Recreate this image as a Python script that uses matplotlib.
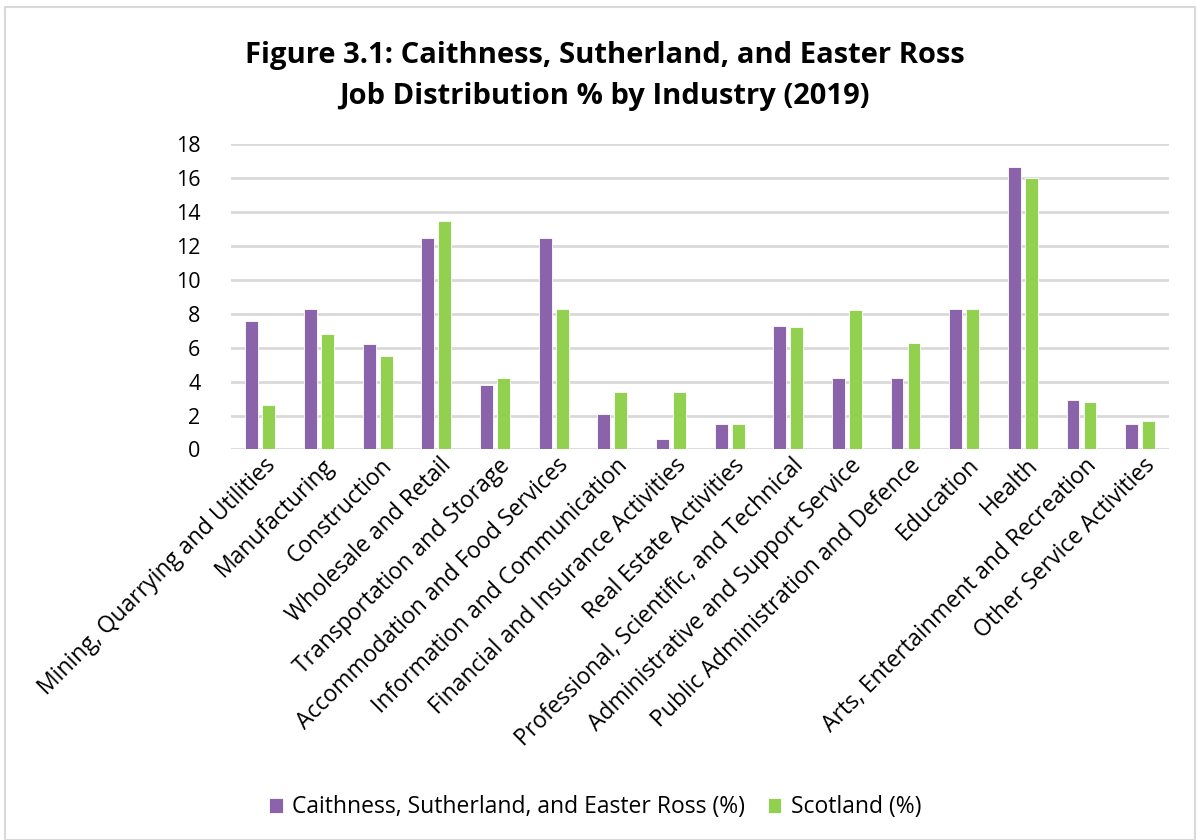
"""Job distribution % by industry (2019) - grouped bar chart."""

import numpy as np
import matplotlib
matplotlib.use("Agg")
import matplotlib.pyplot as plt
from matplotlib.patches import Rectangle

plt.rcParams["font.family"] = ["Open Sans", "DejaVu Sans"]

INDUSTRIES = [
    "Mining, Quarrying and Utilities",
    "Manufacturing",
    "Construction",
    "Wholesale and Retail",
    "Transportation and Storage",
    "Accommodation and Food Services",
    "Information and Communication",
    "Financial and Insurance Activities",
    "Real Estate Activities",
    "Professional, Scientific, and Technical",
    "Administrative and Support Service",
    "Public Administration and Defence",
    "Education",
    "Health",
    "Arts, Entertainment and Recreation",
    "Other Service Activities",
]
CSER = [7.6, 8.3, 6.2, 12.5, 3.8, 12.5, 2.1, 0.6, 1.5, 7.3, 4.2, 4.2, 8.3, 16.7, 2.9, 1.5]
SCOTLAND = [2.6, 6.8, 5.5, 13.5, 4.2, 8.3, 3.4, 3.4, 1.5, 7.2, 8.2, 6.3, 8.3, 16.0, 2.8, 1.7]
SERIES_NAMES = ["Caithness, Sutherland, and Easter Ross (%)", "Scotland (%)"]
Y_TICKS = list(range(0, 19, 2))

PURPLE = "#8a63aa"
GREEN = "#92d050"
GRID = "#d9d9d9"

fig = plt.figure(figsize=(11.97, 8.4), dpi=100)
ax = fig.add_axes([0.193, 0.465, 0.784, 0.363])

x = np.arange(len(INDUSTRIES))
offset = 0.145
width = 0.22
ax.bar(x - offset, CSER, width, color=PURPLE, edgecolor="white", linewidth=0.6,
       label=SERIES_NAMES[0], zorder=3)
ax.bar(x + offset, SCOTLAND, width, color=GREEN, edgecolor="white", linewidth=0.6,
       label=SERIES_NAMES[1], zorder=3)

ax.set_xlim(-0.5, len(INDUSTRIES) - 0.5)
ax.set_ylim(0, 18)
ax.set_yticks(Y_TICKS)
ax.tick_params(axis="y", length=0, pad=22, labelsize=15.5)
ax.tick_params(axis="x", length=0, pad=3)
ax.yaxis.grid(True, color=GRID, linewidth=2)
ax.set_axisbelow(True)
for side in ["top", "right", "left", "bottom"]:
    ax.spines[side].set_visible(False)

ax.set_xticks(x + 0.05)
ax.set_xticklabels(INDUSTRIES, rotation=45, ha="right", rotation_mode="anchor",
                   fontsize=16.5)

fig.text(0.505, 0.91, "Figure 3.1: Caithness, Sutherland, and Easter Ross\n"
         "Job Distribution % by Industry (2019)",
         ha="center", va="center", fontsize=21, fontweight="bold", linespacing=1.55)

fig.legend(loc="lower center", bbox_to_anchor=(0.497, 0.0), ncol=2, frameon=False,
           fontsize=16.5, handlelength=0.6, handleheight=0.6, handletextpad=0.4,
           columnspacing=1.0)

# light frame round the whole chart
fig.patches.append(Rectangle((0.004, 0.0), 0.994, 0.992, transform=fig.transFigure,
                             fill=False, edgecolor="#d9d9d9", linewidth=1.5))

fig.savefig("out.png", dpi=100)
